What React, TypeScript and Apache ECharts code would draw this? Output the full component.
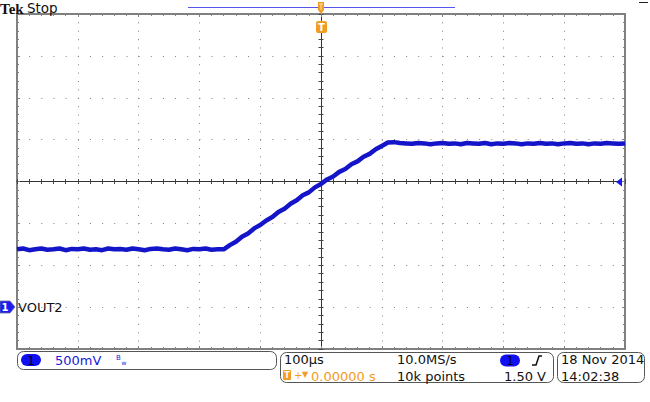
import React, { useEffect, useRef } from "react";
import * as echarts from "echarts";

const timeUs = [
  -500, -490, -480, -470, -460, -450, -440, -430, -420, -410,
  -400, -390, -380, -370, -360, -350, -340, -330, -320, -310,
  -300, -290, -280, -270, -260, -250, -240, -230, -220, -210,
  -200, -190, -180, -170, -160, -150, -140, -130, -120, -110,
  -100, -90, -80, -70, -60, -50, -40, -30, -20, -10,
  0, 10, 20, 30, 40, 50, 60, 70, 80, 90,
  100, 110, 120, 130, 140, 150, 160, 170, 180, 190,
  200, 210, 220, 230, 240, 250, 260, 270, 280, 290,
  300, 310, 320, 330, 340, 350, 360, 370, 380, 390,
  400, 410, 420, 430, 440, 450, 460, 470, 480, 490,
  500,
];
const vout2 = [
  // low level
  0.69, 0.70, 0.68, 0.69, 0.70, 0.685, 0.69, 0.70, 0.68, 0.695,
  0.69, 0.70, 0.685, 0.69, 0.68, 0.70, 0.69, 0.695, 0.685, 0.70,
  0.69, 0.68, 0.695, 0.70, 0.69, 0.685, 0.70, 0.69, 0.68, 0.695,
  0.69, 0.70, 0.685, 0.69,
  // ramp
  0.69, 0.74, 0.78, 0.84, 0.88, 0.94, 0.98, 1.035, 1.075, 1.135,
  1.175, 1.235, 1.275, 1.335, 1.37, 1.43, 1.47, 1.525, 1.56, 1.615,
  1.65, 1.705, 1.74, 1.795, 1.83, 1.885, 1.925,
  // high level
  1.965, 1.97, 1.96, 1.955, 1.95, 1.96, 1.955, 1.945, 1.955, 1.96,
  1.95, 1.955, 1.945, 1.96, 1.955, 1.95, 1.96, 1.945, 1.955, 1.95,
  1.96, 1.955, 1.945, 1.955, 1.95, 1.96, 1.95, 1.955, 1.945, 1.955,
  1.96, 1.95, 1.955, 1.945, 1.955, 1.95, 1.96, 1.955, 1.95, 1.955,
];

const timeRange = [-500, 500];
const timePerDiv = 100;
const voltRange = [-0.5, 3.5];
const voltPerDiv = 0.5;

const channelLabel = "VOUT2";
const scaleText = "500mV";
const timebaseText = "100µs";
const sampleRateText = "10.0MS/s";
const triggerPosText = "0.00000 s";
const recordText = "10k points";
const triggerLevelText = "1.50 V";
const dateText = "18 Nov 2014";
const clockText = "14:02:38";

const FONT = '"DejaVu Sans", sans-serif';
const ORANGE = "#f39c24";
const BLUE = "#1a1ad6";
const BORDER = "#808080";

export default function App() {
  const ref = useRef<HTMLDivElement>(null);

  useEffect(() => {
    if (!ref.current) return;
    const chart = echarts.init(ref.current, undefined, { renderer: "svg" });

    const noLabel = { show: false };
    const borderX = (position: "top" | "bottom", split: boolean) => ({
      type: "value",
      min: timeRange[0],
      max: timeRange[1],
      interval: timePerDiv,
      position,
      axisLine: { show: true, onZero: false, lineStyle: { color: BORDER, width: 2 } },
      axisTick: { show: true, inside: true, length: 3, lineStyle: { color: BORDER } },
      minorTick: { show: true, splitNumber: 5, length: 2, lineStyle: { color: BORDER } },
      axisLabel: noLabel,
      splitLine: split
        ? { show: true, lineStyle: { color: "#808080", width: 1, type: [1, 7.375] } }
        : { show: false },
    });
    const borderY = (position: "left" | "right", split: boolean) => ({
      type: "value",
      min: voltRange[0],
      max: voltRange[1],
      interval: voltPerDiv,
      position,
      axisLine: { show: true, onZero: false, lineStyle: { color: BORDER, width: 2 } },
      axisTick: { show: true, inside: true, length: 3, lineStyle: { color: BORDER } },
      minorTick: { show: true, splitNumber: 5, length: 2, lineStyle: { color: BORDER } },
      axisLabel: noLabel,
      splitLine: split
        ? { show: true, lineStyle: { color: "#808080", width: 1, type: [1, 11.16] } }
        : { show: false },
    });
    const centerX = (inside: boolean) => ({
      type: "value",
      min: timeRange[0],
      max: timeRange[1],
      interval: timePerDiv / 5,
      position: "bottom",
      offset: -167.5,
      axisLine: { show: true, onZero: false, lineStyle: { color: "#333", width: 1 } },
      axisTick: { show: true, inside, length: 2.5, lineStyle: { color: "#444" } },
      axisLabel: noLabel,
      splitLine: { show: false },
    });
    const centerY = (inside: boolean) => ({
      type: "value",
      min: voltRange[0],
      max: voltRange[1],
      interval: voltPerDiv / 5,
      position: "left",
      offset: -304,
      axisLine: { show: true, onZero: false, lineStyle: { color: "#333", width: 1 } },
      axisTick: { show: true, inside, length: 2.5, lineStyle: { color: "#444" } },
      axisLabel: noLabel,
      splitLine: { show: false },
    });

    const txt = (
      text: string,
      x: number,
      y: number,
      fill = "#111",
      size = 13,
      align = "left",
      z = 110
    ) => ({
      type: "text",
      x,
      y,
      z,
      style: {
        text,
        fill,
        font: `${size}px ${FONT}`,
        align,
        verticalAlign: "middle",
      },
    });

    const graphics: any[] = [
      // Header
      {
        type: "text",
        x: 0,
        y: 1,
        z: 110,
        style: {
          text: "Tek",
          fill: "#111",
          font: 'bold 15px "Liberation Serif", serif',
          verticalAlign: "top",
        },
      },
      txt("Stop", 27, 8, "#111", 13.5),
      {
        type: "line",
        z: 100,
        shape: { x1: 188, y1: 7.5, x2: 455, y2: 7.5 },
        style: { stroke: "#5555ee", lineWidth: 1 },
      },
      {
        type: "line",
        z: 100,
        shape: { x1: 639, y1: 2.5, x2: 648, y2: 2.5 },
        style: { stroke: "#222", lineWidth: 1 },
      },
      // Trigger position marker (small, on record bar)
      {
        type: "polygon",
        z: 100,
        shape: { points: [[318, 2], [324, 2], [324, 10], [321, 14], [318, 10]] },
        style: { fill: ORANGE },
      },
      {
        type: "polyline",
        z: 101,
        shape: { points: [[319, 4], [323, 4]] },
        style: { stroke: "#ffe0b0", lineWidth: 1 },
      },
      {
        type: "polyline",
        z: 101,
        shape: { points: [[321, 4], [321, 10]] },
        style: { stroke: "#ffe0b0", lineWidth: 1 },
      },
      // Trigger marker (large)
      {
        type: "rect",
        z: 100,
        shape: { x: 316, y: 21, width: 11, height: 12, r: 2 },
        style: { fill: ORANGE },
      },
      {
        type: "text",
        x: 321.5,
        y: 27.5,
        z: 110,
        style: {
          text: "T",
          fill: "#fff",
          font: `bold 10px ${FONT}`,
          align: "center",
          verticalAlign: "middle",
        },
      },
      // Trigger level arrow (right)
      {
        type: "polygon",
        z: 100,
        shape: { points: [[616, 182], [622, 177.5], [622, 186.5]] },
        style: { fill: "#1a1ae6" },
      },
      // Channel 1 ground marker
      {
        type: "polygon",
        z: 100,
        shape: { points: [[0, 301], [10, 301], [15, 307], [10, 313], [0, 313]] },
        style: { fill: "#1c1cf0", stroke: "#6a6a9a", lineWidth: 0.8 },
      },
      {
        type: "text",
        x: 5,
        y: 307.5,
        z: 110,
        style: {
          text: "1",
          fill: "#fff",
          font: `bold 10px ${FONT}`,
          align: "center",
          verticalAlign: "middle",
        },
      },
      txt(channelLabel, 18, 307, "#111", 13),
      // Status box 1
      {
        type: "rect",
        z: 100,
        shape: { x: 17.5, y: 351.5, width: 259, height: 18, r: 6 },
        style: { fill: "#fff", stroke: "#555", lineWidth: 1 },
      },
      {
        type: "rect",
        z: 101,
        shape: { x: 21, y: 354, width: 20, height: 12, r: 6 },
        style: { fill: "#1010f0" },
      },
      txt("1", 31, 360.5, "#000030", 12, "center"),
      txt(scaleText, 55, 360.5, BLUE, 13),
      txt("B", 116, 357.5, BLUE, 7),
      txt("w", 121.5, 362.5, BLUE, 6),
      // Status box 2
      {
        type: "rect",
        z: 100,
        shape: { x: 280.5, y: 352.5, width: 273, height: 30, r: 6 },
        style: { fill: "#fff", stroke: "#555", lineWidth: 1 },
      },
      txt(timebaseText, 284, 359, "#111", 13),
      txt(sampleRateText, 397, 359, "#111", 13),
      {
        type: "rect",
        z: 101,
        shape: { x: 500, y: 354.5, width: 20, height: 12, r: 6 },
        style: { fill: "#1010f0" },
      },
      txt("1", 510, 361, "#000030", 12, "center"),
      {
        type: "polyline",
        z: 101,
        shape: { points: [[532, 365], [536, 365], [539, 356], [542, 356]] },
        style: { stroke: "#111", lineWidth: 1.5 },
      },
      {
        type: "rect",
        z: 101,
        shape: { x: 283, y: 370, width: 8, height: 10, r: 1 },
        style: { fill: ORANGE },
      },
      {
        type: "text",
        x: 287,
        y: 375.5,
        z: 110,
        style: {
          text: "T",
          fill: "#fff",
          font: `bold 8px ${FONT}`,
          align: "center",
          verticalAlign: "middle",
        },
      },
      txt("+", 294, 375, ORANGE, 10),
      txt("▼", 302, 374, ORANGE, 8),
      txt(triggerPosText, 311, 376, ORANGE, 13),
      txt(recordText, 397, 376, "#111", 13),
      txt(triggerLevelText, 546, 376, "#111", 13, "right"),
      // Status box 3
      {
        type: "rect",
        z: 100,
        shape: { x: 557.5, y: 352.5, width: 87, height: 30, r: 6 },
        style: { fill: "#fff", stroke: "#555", lineWidth: 1 },
      },
      txt(dateText, 561, 359, "#111", 13),
      txt(clockText, 561, 376, "#111", 13),
    ];

    chart.setOption({
      animation: false,
      backgroundColor: "#ffffff",
      grid: { left: 17, top: 14, width: 608, height: 335, containLabel: false },
      xAxis: [borderX("bottom", true), borderX("top", false), centerX(true), centerX(false)],
      yAxis: [borderY("left", true), borderY("right", false), centerY(true), centerY(false)],
      series: [
        {
          type: "line",
          name: channelLabel,
          xAxisIndex: 0,
          yAxisIndex: 0,
          data: timeUs.map((t, i) => [t, vout2[i]]),
          showSymbol: false,
          symbol: "none",
          clip: true,
          lineStyle: { color: "#1414c8", width: 4.5 },
          z: 5,
        },
      ],
      graphic: graphics,
    });

    return () => chart.dispose();
  }, []);

  return (
    <div
      ref={ref}
      style={{
        position: "fixed",
        left: 0,
        top: 0,
        width: 650,
        height: 402,
        background: "#fff",
      }}
    />
  );
}
